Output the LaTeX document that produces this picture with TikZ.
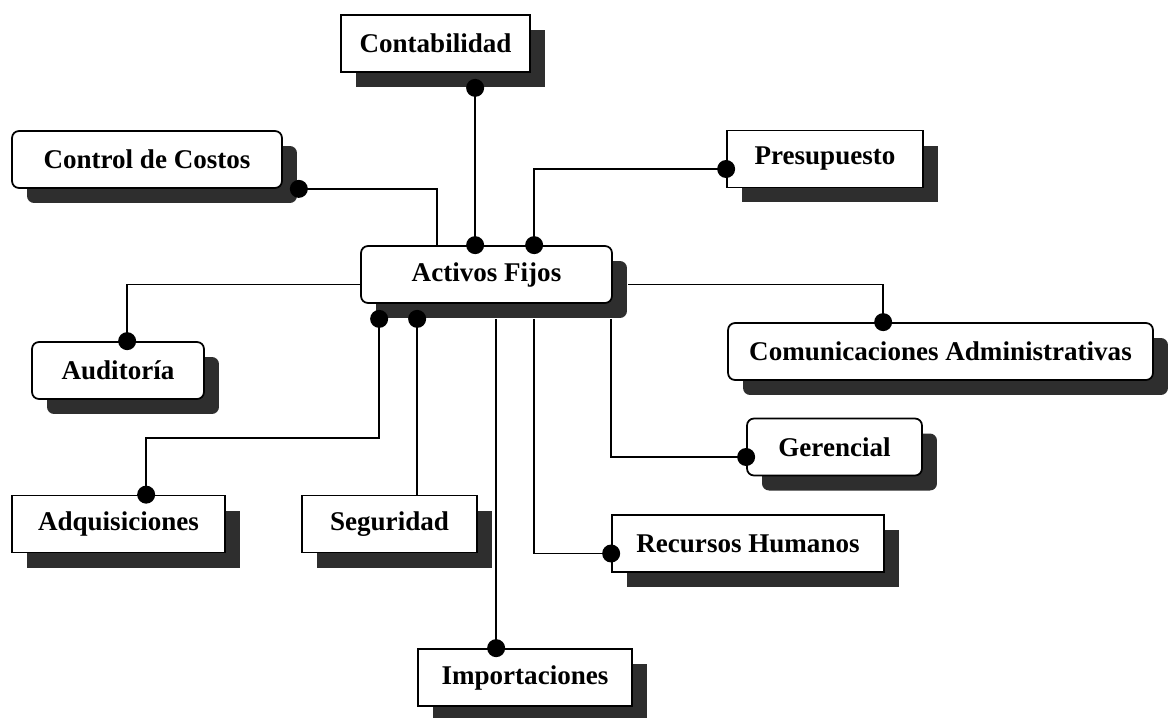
\documentclass[tikz,border=0pt]{standalone}
\usepackage{fontspec}
\setmainfont{Liberation Serif}
\usetikzlibrary{shadows,calc}

\begin{document}
\begin{tikzpicture}[x=0.02cm,y=-0.02cm,
    box/.style={draw,line width=1pt,fill=white,minimum height=1.14cm,inner sep=0pt,
        font=\fontsize{15.4}{18}\selectfont\bfseries,
        general shadow={fill=black!82,shadow xshift=0.3cm,shadow yshift=-0.3cm}},
    rbox/.style={box,rounded corners=0.14cm},
    link/.style={line width=1pt}]
\useasboundingbox (0,0) rectangle (1169,717);
% boxes
\node[box,minimum width=3.78cm] (contab) at (435.5,43.5) {Contabilidad};
\node[rbox,minimum width=5.4cm] (costos) at (147,159.5) {Control de Costos};
\node[box,minimum width=3.92cm] (presup) at (825,159) {Presupuesto};
\node[rbox,minimum width=5.02cm] (activos) at (486.5,274.5) {Activos Fijos};
\node[rbox,minimum width=3.44cm] (audit) at (118,370.5) {Auditoría};
\node[rbox,minimum width=8.5cm] (comun) at (940.5,351.5) {Comunicaciones Administrativas};
\node[rbox,minimum width=3.5cm] (geren) at (834.5,447) {Gerencial};
\node[box,minimum width=4.26cm] (adqui) at (118.5,524) {Adquisiciones};
\node[box,minimum width=3.5cm] (segur) at (389.5,524) {Seguridad};
\node[box,minimum width=5.44cm] (rrhh) at (748,543.5) {Recursos Humanos};
\node[box,minimum width=4.28cm] (import) at (525,677.5) {Importaciones};
% upper connectors
\coordinate (pcontab) at ($(contab.south west)+(135,15)$);
\draw[link] (pcontab) -- (pcontab |- activos.north);
\fill (pcontab) circle (0.18cm) (pcontab |- activos.north) circle (0.18cm);
\coordinate (pcostos) at ($(costos.south east)+(16,0)$);
\draw[link] (pcostos) -| ($(activos.north west)+(77,0)$);
\fill (pcostos) circle (0.18cm);
\coordinate (ppresup) at ($(presup.west)+(0,10)$);
\coordinate (qpresup) at ($(activos.north west)+(174,0)$);
\draw[link] (ppresup) -| (qpresup);
\fill (ppresup) circle (0.18cm) (qpresup) circle (0.18cm);
\coordinate (paudit) at ($(audit.north west)+(96,0)$);
\draw[link] ($(activos.west)+(0,10)$) -| (paudit);
\fill (paudit) circle (0.18cm);
\coordinate (pcomun) at ($(comun.north west)+(156,0)$);
\draw[link] ($(activos.east)+(15,10)$) -| (pcomun);
\fill (pcomun) circle (0.18cm);
% lower connectors
\coordinate (ab) at ($(activos.south west)+(0,15)$);
\coordinate (padqui) at ($(ab)+(19,0)$);
\coordinate (qadqui) at ($(adqui.north west)+(135,0)$);
\draw[link] (padqui) -- ++(0,119) -| (qadqui);
\fill (padqui) circle (0.18cm) (qadqui) circle (0.18cm);
\coordinate (psegur) at ($(ab)+(57,0)$);
\draw[link] (psegur) -- (psegur |- segur.north);
\fill (psegur) circle (0.18cm);
\coordinate (pimport) at ($(ab)+(136,0)$);
\draw[link] (pimport) -- (pimport |- import.north);
\fill (pimport |- import.north) circle (0.18cm);
\coordinate (qrrhh) at ($(rrhh.west)+(0,10)$);
\draw[link] ($(ab)+(174,0)$) |- (qrrhh);
\fill (qrrhh) circle (0.18cm);
\coordinate (qgeren) at ($(geren.west)+(0,10)$);
\draw[link] ($(ab)+(251,0)$) |- (qgeren);
\fill (qgeren) circle (0.18cm);
\end{tikzpicture}
\end{document}
